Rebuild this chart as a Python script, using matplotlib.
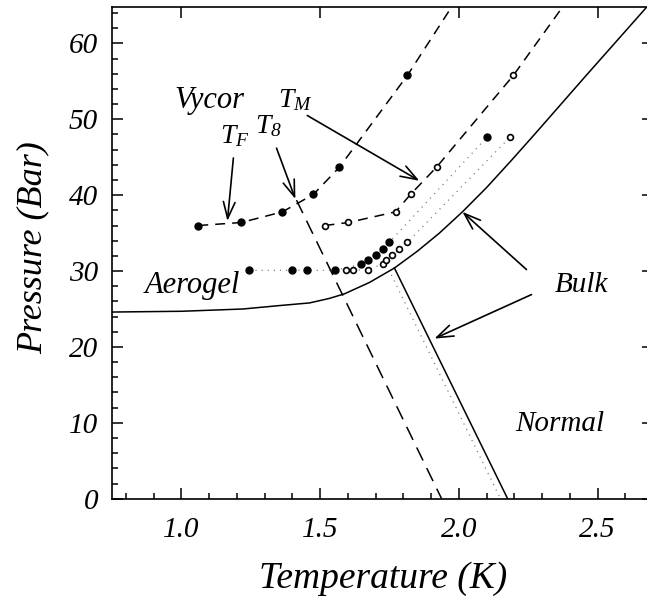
import matplotlib
matplotlib.use("Agg")
import matplotlib.pyplot as plt
from matplotlib.ticker import MultipleLocator, FormatStrFormatter

plt.rcParams['font.family'] = ['Liberation Serif', 'DejaVu Serif']
plt.rcParams['font.style'] = 'italic'
plt.rcParams['mathtext.fontset'] = 'custom'
plt.rcParams['mathtext.it'] = 'Liberation Serif:italic'
plt.rcParams['mathtext.rm'] = 'Liberation Serif:italic'

# ---------------- data ----------------
# Bulk melting curve (solid)
melt_T = [0.75, 1.0, 1.222, 1.353, 1.462, 1.534, 1.588, 1.678, 1.768, 1.85, 1.93, 2.013,
          2.10, 2.19, 2.28, 2.45, 2.68]
melt_P = [24.6, 24.7, 25.0, 25.45, 25.8, 26.4, 27.0, 28.5, 30.4, 32.6, 35.0, 37.8,
          41.0, 44.6, 48.3, 55.4, 64.9]
# Bulk lambda line (solid)
lam_T = [1.768, 2.176]
lam_P = [30.4, 0.0]
# Aerogel lambda line (dotted)
aer_lam_T = [1.757, 2.15]
aer_lam_P = [29.5, 0.0]
# T_8 line (long dashes)
t8_T = [1.415, 1.938]
t8_P = [39.35, 0.0]

# Vycor T_F (filled) and T_M (open)
vyc_P = [36.0, 36.4, 37.8, 40.1, 43.7, 55.8]
vyc_F_T = [1.061, 1.216, 1.364, 1.476, 1.570, 1.815]
vyc_M_T = [1.516, 1.602, 1.772, 1.826, 1.920, 2.197]
# continuation of the dashed curves to the top of the frame
vyc_F_top = (1.974, 64.8)
vyc_M_top = (2.374, 64.8)

# Aerogel points
aer_f_T = [1.245, 1.397, 1.454, 1.555, 1.646, 1.674, 1.700, 1.725, 1.750, 2.103]
aer_f_P = [30.1, 30.1, 30.1, 30.1, 30.9, 31.4, 32.1, 32.9, 33.8, 47.7]
aer_o_T = [1.595, 1.617, 1.674, 1.725, 1.739, 1.761, 1.786, 1.815, 2.186]
aer_o_P = [30.1, 30.1, 30.2, 30.9, 31.4, 32.1, 32.9, 33.8, 47.7]

x_ticks = [1.0, 1.5, 2.0, 2.5]
y_ticks = [0, 10, 20, 30, 40, 50, 60]

# ---------------- figure ----------------
fig = plt.figure(figsize=(6.47, 5.98), dpi=100)
W, H = 647, 598
x0, x1, ytop, ybot = 112, 653, 7, 498.7
ax = fig.add_axes([x0 / W, 1 - ybot / H, (x1 - x0) / W, (ybot - ytop) / H])
ax.set_xlim(0.75, 2.70)
ax.set_ylim(0, 64.8)

lw = 1.1
ax.plot(melt_T, melt_P, color='black', lw=lw, solid_joinstyle='round')
ax.plot(lam_T, lam_P, color='black', lw=lw)
ax.plot(aer_lam_T, aer_lam_P, color='#777777', lw=0.9, linestyle=(0, (0.9, 4.0)))
ax.plot(t8_T, t8_P, color='black', lw=lw, linestyle=(0, (9.5, 5.5)))

ax.plot(vyc_F_T + [vyc_F_top[0]], vyc_P + [vyc_F_top[1]], color='black', lw=lw,
        linestyle=(0, (6.5, 4.6)))
ax.plot(vyc_M_T + [vyc_M_top[0]], vyc_P + [vyc_M_top[1]], color='black', lw=lw,
        linestyle=(0, (6.5, 4.6)))

ax.plot(aer_f_T, aer_f_P, color='#777777', lw=0.9, linestyle=(0, (0.9, 4.0)))
ax.plot(aer_o_T, aer_o_P, color='#777777', lw=0.9, linestyle=(0, (0.9, 4.0)))

ax.plot(vyc_F_T, vyc_P, 'o', ms=5, color='black', mec='black')
ax.plot(vyc_M_T, vyc_P, 'o', ms=4.2, mfc='white', mec='black', mew=1.2)
ax.plot(aer_f_T, aer_f_P, 'o', ms=5, color='black', mec='black')
ax.plot(aer_o_T, aer_o_P, 'o', ms=4.2, mfc='white', mec='black', mew=1.2)

# arrows
arrows = [
    ((1.1875, 44.9), (1.166, 36.6)),   # T_F
    ((1.343, 46.2), (1.411, 39.5)),    # T_8
    ((1.454, 50.5), (1.858, 41.9)),    # T_M
    ((2.244, 30.2), (2.013, 37.8)),    # Bulk (melting)
    ((2.262, 26.9), (1.912, 21.1)),    # Bulk (lambda)
]
for tail, head in arrows:
    ax.annotate('', xy=head, xytext=tail,
                arrowprops=dict(arrowstyle='->,head_length=0.85,head_width=0.3',
                                lw=1.2, color='black', shrinkA=0, shrinkB=0,
                                mutation_scale=14))

# labels
ax.text(0.975, 51.5, 'Vycor', fontsize=22, ha='left', va='baseline')
ax.text(1.350, 51.6, r'$T_M$', fontsize=20, ha='left', va='baseline')
ax.text(1.265, 48.2, r'$T_8$', fontsize=20, ha='left', va='baseline')
ax.text(1.140, 46.9, r'$T_F$', fontsize=20, ha='left', va='baseline')
ax.text(0.869, 27.1, 'Aerogel', fontsize=22, ha='left', va='baseline')
ax.text(2.345, 27.3, 'Bulk', fontsize=21, ha='left', va='baseline')
ax.text(2.205, 8.9, 'Normal', fontsize=21, ha='left', va='baseline')

# axes styling
ax.set_xticks(x_ticks)
ax.set_yticks(y_ticks)
ax.xaxis.set_major_formatter(FormatStrFormatter('%.1f'))
ax.xaxis.set_minor_locator(MultipleLocator(0.1))
ax.yaxis.set_minor_locator(MultipleLocator(2))
ax.tick_params(which='major', direction='in', length=8, width=1.1,
               top=True, right=True, labelsize=21, pad=13)
ax.tick_params(axis='y', which='major', pad=10)
ax.tick_params(which='minor', direction='in', length=4, width=1.1,
               top=False, right=False)
for sp in ax.spines.values():
    sp.set_linewidth(1.2)
for lab in ax.get_xticklabels() + ax.get_yticklabels():
    lab.set_fontstyle('italic')

fig.text(383 / W, 1 - 588 / H, 'Temperature (K)', fontsize=27,
         ha='center', va='baseline')
fig.text(33 / W, 1 - 248 / H, 'Pressure (Bar)', fontsize=26,
         ha='center', va='center', rotation=90)

fig.savefig('out.png', dpi=100)
